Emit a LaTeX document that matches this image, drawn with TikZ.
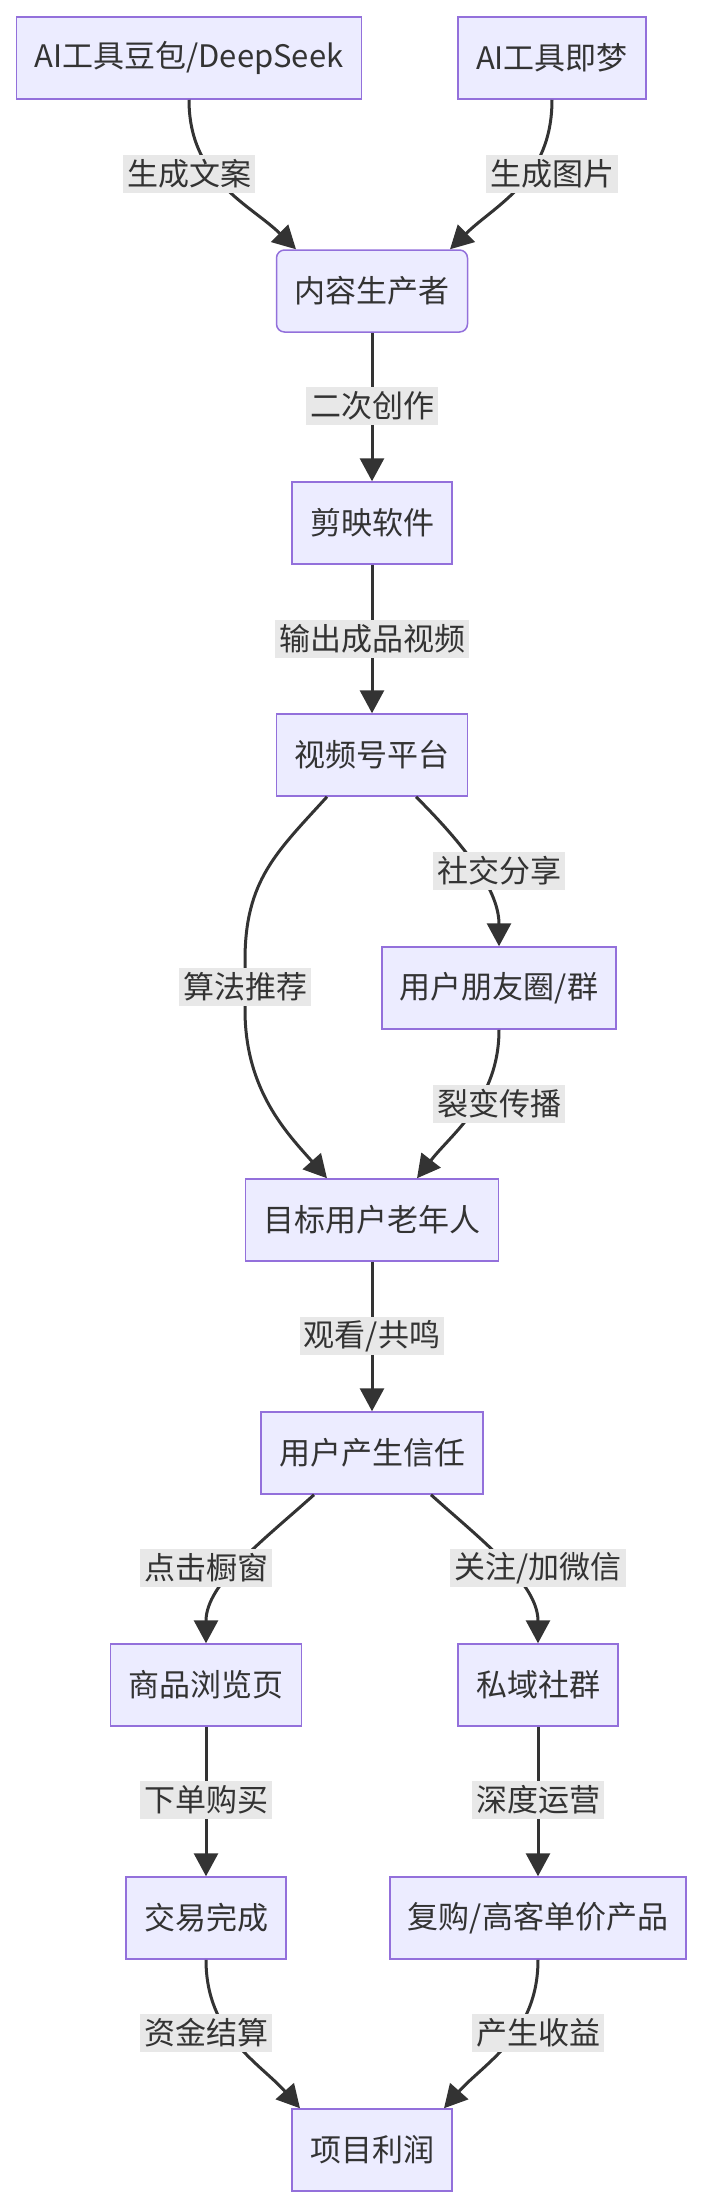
\documentclass[tikz,border=0pt]{standalone}
\usepackage{fontspec}
\setmainfont{Noto Sans CJK SC}
\usepackage{tikz}
\usetikzlibrary{
  arrows.meta,
  calc
}
\definecolor{boxfill}{HTML}{ECECFF}
\definecolor{boxline}{HTML}{9370DB}
\definecolor{edgeink}{HTML}{333333}
\definecolor{tagfill}{HTML}{E8E8E8}

\begin{document}
\begin{tikzpicture}[x=0.5pt, y=-0.5pt,
  every node/.style={font=\fontsize{15.5pt}{18pt}\selectfont, text=edgeink},
  box/.style={draw=boxline, fill=boxfill, line width=0.75pt,
    minimum height=41pt, inner xsep=9pt},
  tag/.style={fill=tagfill, inner xsep=2pt, inner ysep=0pt, minimum height=19pt},
  flow/.style={draw=edgeink, line width=1.5pt,
    -{Triangle[length=11.5pt, width=12pt]}}]
  \useasboundingbox (0,0) rectangle (704,2208);

  % Boxes, top to bottom
  \node[box] (doubao) at (189,58) {AI工具豆包/DeepSeek};
  \node[box] (jimeng) at (552,58) {AI工具即梦};
  \node[box, rounded corners=4pt] (creator) at (372,291) {内容生产者};
  \node[box] (jianying) at (372,523) {剪映软件};
  \node[box] (shipinhao) at (372,755) {视频号平台};
  \node[box] (moments) at (499,988) {用户朋友圈/群};
  \node[box] (elders) at (372,1220) {目标用户老年人};
  \node[box] (trust) at (372,1453) {用户产生信任};
  \node[box] (shop) at (206,1685) {商品浏览页};
  \node[box] (privgroup) at (538,1685) {私域社群};
  \node[box] (deal) at (206,1918) {交易完成};
  \node[box] (rebuy) at (538,1918) {复购/高客单价产品};
  \node[box] (profit) at (372,2150) {项目利润};

  % Connectors
  \draw[flow] (doubao.south) .. controls +(0,80) and +(-46,-45) .. ($(creator.north)+(-76,0)$);
  \draw[flow] (jimeng.south) .. controls +(0,80) and +(46,-45) .. ($(creator.north)+(78,0)$);
  \draw[flow] (creator) -- (jianying);
  \draw[flow] (jianying) -- (shipinhao);
  \draw[flow] ($(shipinhao.south)+(-45,0)$) .. controls +(-50,55) and +(0,-80) .. (245,960)
    -- (245,1010) .. controls +(0,80) and +(-40,-45) .. ($(elders.north)+(-45,0)$);
  \draw[flow] ($(shipinhao.south)+(44,0)$) .. controls +(40,40) and +(0,-60) .. (moments.north);
  \draw[flow] (moments.south) .. controls +(0,70) and +(35,-45) .. ($(elders.north)+(45,0)$);
  \draw[flow] (elders) -- (trust);
  \draw[flow] ($(trust.south)+(-58,0)$) .. controls +(-50,45) and +(0,-60) .. (shop.north);
  \draw[flow] ($(trust.south)+(59,0)$) .. controls +(50,45) and +(0,-60) .. (privgroup.north);
  \draw[flow] (shop) -- (deal);
  \draw[flow] (privgroup) -- (rebuy);
  \draw[flow] (deal.south) .. controls +(0,75) and +(-40,-45) .. ($(profit.north)+(-72,0)$);
  \draw[flow] (rebuy.south) .. controls +(0,75) and +(40,-45) .. ($(profit.north)+(72,0)$);

  % Edge labels
  \node[tag] (tag1) at (189,174) {生成文案};
  \node[tag] (tag2) at (552,174) {生成图片};
  \node[tag] (tag3) at (372,406) {二次创作};
  \node[tag] (tag4) at (372,639) {输出成品视频};
  \node[tag] (tag5) at (245,987) {算法推荐};
  \node[tag] (tag6) at (499,871) {社交分享};
  \node[tag] (tag7) at (499,1104) {裂变传播};
  \node[tag] (tag8) at (372,1336) {观看/共鸣};
  \node[tag] (tag9) at (206,1568) {点击橱窗};
  \node[tag] (tag10) at (538,1568) {关注/加微信};
  \node[tag] (tag11) at (206,1800) {下单购买};
  \node[tag] (tag12) at (538,1800) {深度运营};
  \node[tag] (tag13) at (206,2033) {资金结算};
  \node[tag] (tag14) at (538,2033) {产生收益};
\end{tikzpicture}
\end{document}
